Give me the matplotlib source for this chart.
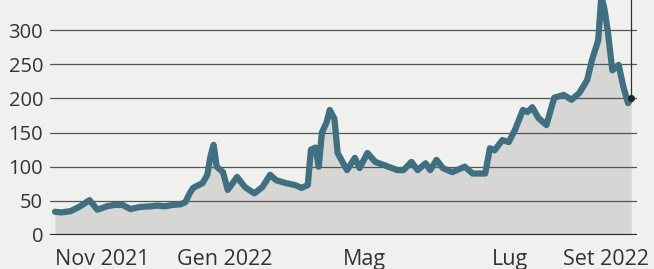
import numpy as np
import matplotlib
matplotlib.use("Agg")
import matplotlib.pyplot as plt

# giorni dall'inizio della serie e valori
days = [0, 4, 10, 16, 22, 27, 33, 38, 43, 48, 54, 61, 65, 70, 75, 80, 83, 86,
        88, 94, 97, 99, 101, 103, 107, 110, 116, 121, 127, 132, 137, 141, 147,
        153, 157, 161, 163, 166, 168, 170, 173, 175, 178, 180, 186, 191, 194,
        199, 204, 210, 218, 222, 227, 231, 236, 239, 243, 247, 253, 261, 266,
        274, 277, 280, 285, 289, 293, 298, 301, 304, 308, 313, 318, 324, 329,
        334, 339, 342, 346, 348, 350, 352, 355, 359, 362, 365, 367]
values = [34, 33, 35, 42, 51, 37, 42, 44, 44, 38, 41, 42, 43, 42, 44, 45, 48, 62,
          69, 76, 88, 115, 132, 100, 92, 66, 85, 70, 61, 70, 88, 80, 76,
          73, 69, 73, 125, 128, 100, 150, 165, 183, 170, 120, 95, 113, 98,
          120, 107, 102, 95, 95, 107, 95, 105, 95, 110, 98, 92, 100, 90,
          90, 127, 124, 139, 136, 154, 183, 180, 187, 171, 161, 201, 205, 198,
          208, 227, 256, 285, 350, 330, 300, 241, 249, 217, 193, 200]

yticks = [0, 50, 100, 150, 200, 250, 300]
tick_days = [30, 108, 197, 290, 351]
tick_labels = ["Nov 2021", "Gen 2022", "Mag", "Lug", "Set 2022"]

bg = "#f0f0ee"
line_col = "#3f6f80"
text_col = "#333333"

plt.rcParams['font.family'] = ['Open Sans', 'DejaVu Sans']

fig = plt.figure(figsize=(6.54, 2.69), dpi=100, facecolor=bg)
ax = fig.add_axes([50 / 654, 34 / 269, 587 / 654, 235 / 269])
ax.set_facecolor(bg)

x = np.array(days)
y = np.array(values)

ax.fill_between(x, 0, y, color="#d6d6d4", zorder=1, lw=0)

# righe orizzontali
for v in yticks:
    if v == 0:
        ax.axhline(v, color="#2a2a2a", lw=1.6, zorder=2)
    else:
        ax.axhline(v, color="#555555", lw=0.9, zorder=2)

ax.plot(x, y, color=line_col, lw=4.5, solid_joinstyle="round",
        solid_capstyle="round", zorder=3)

# ultimo valore: linea verticale e punto
ax.plot([x[-1], x[-1]], [y[-1], 400], color="#333333", lw=0.9, zorder=4,
        clip_on=False)
ax.plot(x[-1], y[-1], "o", color="#222222", ms=4, zorder=5)

ax.set_xlim(-3.2, 370.7)
ax.set_ylim(0, 344)

ax.set_yticks(yticks)
ax.set_yticklabels([str(v) for v in yticks])
ax.set_xticks(tick_days)
ax.set_xticklabels(tick_labels)
ax.tick_params(axis="both", length=0, colors=text_col)
ax.tick_params(axis="y", pad=5, labelsize=14.5)
ax.tick_params(axis="x", pad=10, labelsize=15.5)

for s in ax.spines.values():
    s.set_visible(False)

fig.savefig("out.png", dpi=100, facecolor=bg)
